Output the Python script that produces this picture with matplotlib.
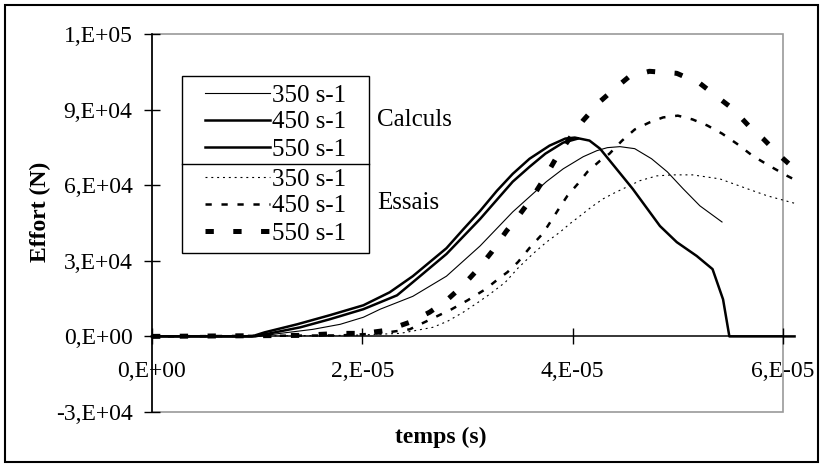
import numpy as np
import matplotlib
matplotlib.use('Agg')
import matplotlib.pyplot as plt
from matplotlib.patches import Rectangle
from matplotlib.lines import Line2D

# ---------------- data (time in 1e-5 s, force in N) ----------------
calc_350_t = [0, 1.01, 1.22, 1.53, 1.79, 2.01, 2.17, 2.48, 2.80, 3.12, 3.43, 3.75, 3.91, 4.10, 4.23, 4.33, 4.45, 4.59, 4.75, 4.90, 5.05, 5.21, 5.42]
calc_350_f = [0, 0, 1200, 2800, 4800, 7600, 10800, 15900, 23900, 35900, 49400, 61400, 66500, 71300, 73700, 74900, 75300, 74500, 70500, 65300, 58600, 51800, 45400]

calc_450_t = [0, 0.98, 1.12, 1.41, 1.69, 2.01, 2.33, 2.48, 2.80, 3.12, 3.43, 3.59, 3.74, 3.91, 4.05]
calc_450_f = [0, 0, 1200, 3600, 6800, 10800, 16300, 21500, 32700, 46600, 61400, 67300, 72500, 76900, 78500]

calc_550_t = [0, 0.95, 1.07, 1.38, 1.69, 2.01, 2.26, 2.48, 2.80, 2.96, 3.12, 3.28, 3.43, 3.59, 3.78, 3.93, 4.02, 4.16, 4.26,
              4.57, 4.83, 4.99, 5.18, 5.33, 5.43, 5.49, 6.11]
calc_550_f = [0, 0, 1600, 4800, 8400, 12350, 17500, 23900, 35000, 42500, 49800, 57800, 64500, 70500, 75700, 78500, 78900, 77700, 74500,
              58600, 43800, 37400, 31900, 26700, 14700, 0, 0]

essai_350_t = [0, 1.88, 2.36, 2.67, 2.81, 2.96, 3.10, 3.21, 3.36, 3.48, 3.62, 3.75, 3.88, 3.97, 4.07, 4.18, 4.29, 4.40, 4.52,
               4.64, 4.80, 4.95, 5.14, 5.40, 5.66, 5.85, 6.06, 6.13]
essai_350_f = [0, 400, 1200, 3600, 6000, 9600, 13500, 16700, 21500, 27100, 32700, 37400, 41400, 44600, 47800, 51400, 54600, 57000, 59400,
               61800, 63700, 64100, 64100, 62500, 58600, 55800, 53400, 52600]

essai_450_t = [0, 1.79, 2.17, 2.45, 2.69, 2.85, 3.00, 3.17, 3.29, 3.38, 3.48, 3.59, 3.72, 3.80, 3.88, 3.95, 4.05, 4.14, 4.26,
               4.35, 4.47, 4.59, 4.73, 4.86, 5.00, 5.14, 5.28, 5.42, 5.56, 5.71, 5.87, 6.04, 6.11]
essai_450_f = [0, 400, 1200, 2800, 7600, 10800, 14300, 18700, 22700, 25500, 29500, 35100, 41000, 46200, 51400, 55800, 60600, 65300, 69700,
               72500, 77700, 82100, 84900, 86900, 87600, 86100, 83700, 80500, 76500, 71700, 67700, 63700, 62200]

essai_550_t = [0, 1.41, 1.79, 2.01, 2.23, 2.45, 2.64, 2.79, 2.95, 3.10, 3.23, 3.37, 3.50, 3.62, 3.74, 3.85, 3.97, 4.10, 4.26,
               4.38, 4.54, 4.73, 4.99, 5.21, 5.37, 5.52, 5.68, 5.81, 5.97, 6.11]
essai_550_f = [0, 400, 1200, 1200, 2400, 5600, 9600, 13900, 19900, 26700, 33500, 41800, 48600, 55400, 63300, 71300, 78500, 85700, 93200,
               97600, 103200, 105200, 104400, 100400, 95200, 90400, 83300, 78500, 71700, 66500]

series_labels = ['350 s-1', '450 s-1', '550 s-1']
group_labels = ['Calculs', 'Essais']

x_ticks = [0, 2e-5, 4e-5, 6e-5]
x_tick_labels = ['0,E+00', '2,E-05', '4,E-05', '6,E-05']
y_ticks = [-30000, 0, 30000, 60000, 90000, 120000]
y_tick_labels = ['-3,E+04', '0,E+00', '3,E+04', '6,E+04', '9,E+04', '1,E+05']

# ---------------- figure ----------------
plt.rcParams['font.family'] = ['Liberation Serif', 'DejaVu Serif']
plt.rcParams['lines.scale_dashes'] = False

W, H = 823, 467
fig = plt.figure(figsize=(W / 100, H / 100), dpi=100)


def fx(px):
    return px / W


def fy(py):
    return 1 - py / H


ax = fig.add_axes([fx(152), fy(412), fx(783) - fx(152), fy(34) - fy(412)])

s = 1e-5
styles = [
    dict(color='black', lw=0.8, ls='-'),
    dict(color='black', lw=1.8, ls='-'),
    dict(color='black', lw=1.8, ls='-'),
    dict(color='black', lw=0.8, dashes=(1.4, 2.8)),
    dict(color='black', lw=1.8, dashes=(4.5, 7.0)),
    dict(color='black', lw=3.6, dashes=(6.0, 14.0)),
]
data = [(calc_350_t, calc_350_f), (calc_450_t, calc_450_f), (calc_550_t, calc_550_f),
        (essai_350_t, essai_350_f), (essai_450_t, essai_450_f), (essai_550_t, essai_550_f)]
handles = []
for (t, f), st in zip(data, styles):
    ln, = ax.plot(np.array(t) * s, np.array(f), clip_on=False, solid_joinstyle='round', **st)
    handles.append(ln)

ax.set_xlim(0, 6e-5)
ax.set_ylim(-30000, 120000)

# axes: left spine and x-axis through 0 in black, plot-area frame in grey
for sp in ['top', 'right']:
    ax.spines[sp].set_visible(False)
ax.spines['left'].set_linewidth(1.2)
ax.spines['left'].set_color('black')
ax.spines['bottom'].set_position(('data', 0))
ax.spines['bottom'].set_linewidth(1.1)
ax.spines['bottom'].set_color('black')
ax.add_patch(Rectangle((0, 0), 1, 1, transform=ax.transAxes, fill=False,
                       edgecolor='#9a9a9a', lw=1.2, zorder=0.5, clip_on=False))

ax.set_xticks(x_ticks)
ax.set_xticklabels(x_tick_labels)
ax.set_yticks(y_ticks)
ax.set_yticklabels(y_tick_labels)
ax.tick_params(axis='y', direction='inout', length=12, width=1.0, pad=8, labelsize=17)
ax.tick_params(axis='x', direction='inout', length=12, width=1.0, pad=12, labelsize=17)
for lab in ax.get_xticklabels():
    lab.set_zorder(0.1)

# axis titles
fig.text(fx(441), fy(437), 'temps (s)', ha='center', va='center', fontsize=17, fontweight='bold')
fig.text(fx(40), fy(212), 'Effort (N)', ha='center', va='center', fontsize=17, fontweight='bold', rotation=90)

# legends (entries), frames drawn as rectangles
leg_kw = dict(loc='upper left', bbox_transform=fig.transFigure, frameon=False, fontsize=18,
              borderpad=0, borderaxespad=0, handlelength=2.6, handletextpad=0.08, labelspacing=0.18)
leg1 = ax.legend(handles[:3], series_labels, bbox_to_anchor=(fx(205), fy(84)), **leg_kw)
ax.add_artist(leg1)
leg2 = ax.legend(handles[3:], series_labels, bbox_to_anchor=(fx(205), fy(168)), **leg_kw)

fig.add_artist(Rectangle((fx(182), fy(253)), fx(369) - fx(182), fy(76) - fy(253),
                         transform=fig.transFigure, fill=False, edgecolor='black', lw=1.0))
fig.add_artist(Line2D([fx(182), fx(369)], [fy(164), fy(164)], transform=fig.transFigure,
                      color='black', lw=1.0))
fig.text(fx(377), fy(120), group_labels[0], ha='left', va='center', fontsize=18)
fig.text(fx(377), fy(203), group_labels[1], ha='left', va='center', fontsize=18)

# outer frame of the figure
fig.add_artist(Rectangle((fx(5), fy(462)), fx(818) - fx(5), fy(5) - fy(462),
                         transform=fig.transFigure, fill=False, edgecolor='black', lw=1.5))

fig.savefig('out.png', dpi=100)
